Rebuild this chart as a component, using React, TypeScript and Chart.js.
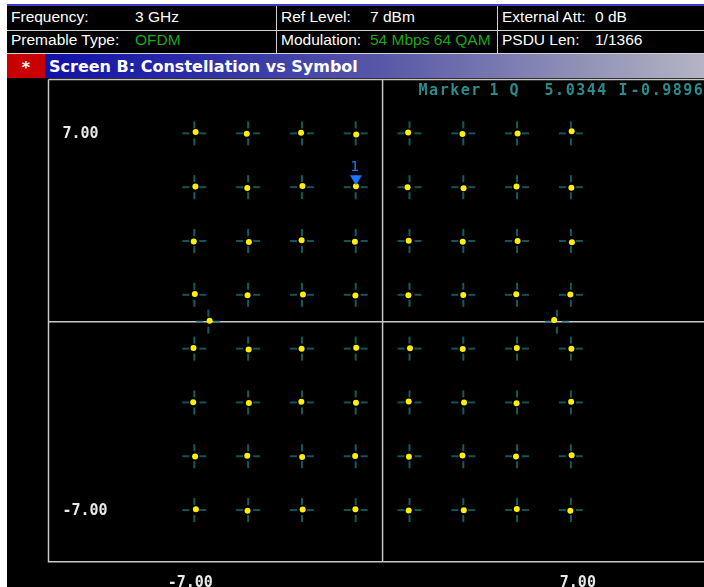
import React, { useEffect, useRef } from 'react';
import { Chart, registerables } from 'chart.js';

Chart.register(...registerables);

// Ideal 64-QAM levels (I and Q) and BPSK pilot positions
const levels = [-7, -5, -3, -1, 1, 3, 5, 7];
const pilotI = [-6.48, 6.48];
const pilotQ = [0, 0];

// Measured symbols, row by row (Q = 7 ... -7), columns I = -7 ... 7, then the two pilots
const measuredI = [
  -6.95, -5.05, -3.03, -0.98, 0.95, 2.97, 5.02, 7.03,
  -6.96, -5.03, -2.98, -0.9896, 0.93, 3.01, 4.98, 7.02,
  -7.02, -4.97, -3.01, -1.03, 0.97, 2.98, 5.02, 7.04,
  -6.98, -5.02, -2.96, -1.01, 0.96, 3.0, 4.97, 6.98,
  -7.03, -4.98, -3.01, -0.98, 1.02, 2.98, 4.99, 7.02,
  -7.04, -4.97, -3.02, -0.99, 0.97, 3.03, 4.98, 7.01,
  -6.97, -5.03, -2.99, -1.02, 0.98, 2.97, 4.96, 7.03,
  -6.94, -5.02, -2.97, -1.01, 0.97, 3.02, 4.99, 6.98,
  -6.43, 6.38,
];
const measuredQ = [
  7.05, 6.98, 7.02, 6.96, 7.03, 6.97, 6.99, 7.08,
  5.02, 4.97, 5.04, 5.0344, 5.0, 4.96, 5.02, 4.98,
  2.98, 2.96, 3.03, 2.97, 3.01, 2.97, 3.0, 2.95,
  1.03, 0.98, 1.01, 0.97, 0.98, 0.99, 1.02, 1.01,
  -0.98, -1.03, -1.01, -0.97, -0.99, -1.02, -0.98, -1.01,
  -2.99, -3.02, -2.98, -3.01, -2.97, -3.0, -3.03, -2.98,
  -5.01, -4.98, -5.03, -4.99, -5.02, -4.97, -5.01, -4.96,
  -6.97, -7.03, -6.98, -6.97, -7.02, -7.01, -6.96, -7.03,
  0.03, 0.06,
];

// Marker 1
const markerI = -0.9896;
const markerQ = 5.0344;

// Axis ranges and labels
const xMin = -12.42;
const xMax = 11.95;
const yMin = -8.92;
const yMax = 9.0;
const qTickValues = [7, -7];
const iTickValues = [-7, 7];
const tickText = (v: number) => v.toFixed(2);

const headerRow1 = [
  { label: 'Frequency:', value: '3 GHz', green: false },
  { label: 'Ref Level:', value: '7 dBm', green: false },
  { label: 'External Att:', value: '0 dB', green: false },
];
const headerRow2 = [
  { label: 'Premable Type:', value: 'OFDM', green: true },
  { label: 'Modulation:', value: '54 Mbps 64 QAM', green: true },
  { label: 'PSDU Len:', value: '1/1366', green: false },
];
const titleText = 'Screen B: Constellation vs Symbol';

function makeCross(): HTMLCanvasElement {
  const c = document.createElement('canvas');
  c.width = 26;
  c.height = 26;
  const ctx = c.getContext('2d')!;
  ctx.strokeStyle = '#1a7272';
  ctx.lineWidth = 1.6;
  ctx.beginPath();
  ctx.moveTo(1, 13); ctx.lineTo(8, 13);
  ctx.moveTo(18, 13); ctx.lineTo(25, 13);
  ctx.moveTo(13, 1); ctx.lineTo(13, 8);
  ctx.moveTo(13, 18); ctx.lineTo(13, 25);
  ctx.stroke();
  return c;
}

const headerFont = '15.5px "Liberation Sans", Arial, sans-serif';

export default function App() {
  const ref = useRef<HTMLCanvasElement | null>(null);

  useEffect(() => {
    if (!ref.current) return;
    const ideal: { x: number; y: number }[] = [];
    for (let r = levels.length - 1; r >= 0; r--) {
      for (let c = 0; c < levels.length; c++) ideal.push({ x: levels[c], y: levels[r] });
    }
    pilotI.forEach((v, i) => ideal.push({ x: v, y: pilotQ[i] }));
    const measured = measuredI.map((v, i) => ({ x: v, y: measuredQ[i] }));

    const overlay = {
      id: 'overlay',
      beforeDraw(chart: any) {
        const { ctx, width, height } = chart;
        ctx.save();
        ctx.fillStyle = '#000';
        ctx.fillRect(0, 0, width, height);
        ctx.restore();
      },
      beforeDatasetsDraw(chart: any) {
        const { ctx, chartArea: a, scales } = chart;
        const x0 = scales.x.getPixelForValue(0);
        const y0 = scales.y.getPixelForValue(0);
        ctx.save();
        ctx.strokeStyle = '#c8c8c8';
        ctx.lineWidth = 1.5;
        ctx.beginPath();
        ctx.moveTo(a.left, a.top); ctx.lineTo(a.right, a.top);
        ctx.moveTo(a.left, a.top); ctx.lineTo(a.left, a.bottom);
        ctx.lineTo(a.right, a.bottom);
        ctx.moveTo(x0, a.top); ctx.lineTo(x0, a.bottom);
        ctx.moveTo(a.left, y0); ctx.lineTo(a.right, y0);
        ctx.stroke();
        ctx.restore();
      },
      afterDatasetsDraw(chart: any) {
        const { ctx, chartArea: a, scales } = chart;
        ctx.save();
        // Q labels
        ctx.fillStyle = '#e8e8e8';
        ctx.font = 'bold 15px "DejaVu Sans Mono", monospace';
        ctx.textBaseline = 'middle';
        ctx.textAlign = 'left';
        qTickValues.forEach((v) => {
          ctx.fillText(tickText(v), a.left + 14, scales.y.getPixelForValue(v) + 1);
        });
        // I labels
        ctx.textAlign = 'center';
        iTickValues.forEach((v) => {
          ctx.fillText(tickText(v), scales.x.getPixelForValue(v) + (v < 0 ? -4 : 7), a.bottom + 21);
        });
        // Marker
        const mx = scales.x.getPixelForValue(markerI);
        const my = scales.y.getPixelForValue(markerQ);
        ctx.fillStyle = '#1e74ff';
        ctx.beginPath();
        ctx.moveTo(mx - 6, my - 11);
        ctx.lineTo(mx + 6, my - 11);
        ctx.lineTo(mx, my - 1);
        ctx.closePath();
        ctx.fill();
        ctx.font = '14px "DejaVu Sans", sans-serif';
        ctx.fillText('1', mx - 1, my - 19);
        // Marker readout
        ctx.fillStyle = '#2a8c8c';
        ctx.font = 'bold 15px "DejaVu Sans Mono", monospace';
        (ctx as any).letterSpacing = '1.5px';
        ctx.textAlign = 'left';
        const ty = a.top + 12;
        const x0 = scales.x.getPixelForValue(0);
        ctx.fillText('Marker', x0 + 36, ty);
        ctx.fillText('1', x0 + 107, ty);
        ctx.fillText('Q', x0 + 127, ty);
        ctx.fillText(markerQ.toFixed(4), x0 + 162, ty);
        ctx.fillText('I', x0 + 236, ty);
        ctx.fillText(markerI.toFixed(4), x0 + 248, ty);
        ctx.restore();
      },
    };

    const chart = new Chart(ref.current, {
      type: 'scatter',
      data: {
        datasets: [
          {
            label: 'Measured',
            data: measured,
            pointStyle: 'circle',
            pointRadius: 3,
            backgroundColor: '#fff000',
            borderWidth: 0,
            order: 0,
          },
          {
            label: 'Ideal',
            data: ideal,
            pointStyle: makeCross() as any,
            pointRadius: 13,
            order: 1,
          },
        ],
      },
      options: {
        animation: false,
        responsive: false,
        maintainAspectRatio: false,
        events: [],
        layout: { autoPadding: false, padding: { left: 41.5, top: 1.5, right: 0, bottom: 25.3 } },
        scales: {
          x: { type: 'linear', min: xMin, max: xMax, display: false },
          y: { type: 'linear', min: yMin, max: yMax, display: false },
        },
        plugins: { legend: { display: false }, tooltip: { enabled: false } },
      },
      plugins: [overlay],
    });
    return () => chart.destroy();
  }, []);

  const colX = [11, 281, 502];
  const valX = [135, 370, 595];
  const renderRow = (row: typeof headerRow1, top: number) =>
    row.map((cell, i) => (
      <React.Fragment key={i}>
        <div style={{ position: 'absolute', left: colX[i], top, height: 23, lineHeight: '23px', color: '#ffffff', font: headerFont, whiteSpace: 'nowrap' }}>{cell.label}</div>
        <div style={{ position: 'absolute', left: valX[i], top, height: 23, lineHeight: '23px', color: cell.green ? '#1aa81a' : '#ffffff', font: headerFont, whiteSpace: 'nowrap' }}>{cell.value}</div>
      </React.Fragment>
    ));

  return (
    <div style={{ position: 'absolute', left: 0, top: 0, width: 704, height: 587, overflow: 'hidden', background: '#ffffff' }}>
      <div style={{ position: 'absolute', left: 7, top: 4, width: 697, height: 2, background: '#3a3ad0' }} />
      <div style={{ position: 'absolute', left: 7, top: 6, width: 697, height: 48, background: '#000' }} />
      <div style={{ position: 'absolute', left: 7, top: 30, width: 697, height: 1, background: '#d0d0d0' }} />
      <div style={{ position: 'absolute', left: 7, top: 53, width: 697, height: 1, background: '#d0d0d0' }} />
      <div style={{ position: 'absolute', left: 276, top: 6, width: 1, height: 48, background: '#d0d0d0' }} />
      <div style={{ position: 'absolute', left: 497, top: 6, width: 1, height: 48, background: '#d0d0d0' }} />
      {renderRow(headerRow1, 8)}
      {renderRow(headerRow2, 31)}
      <div style={{ position: 'absolute', left: 7, top: 54, width: 697, height: 24, background: 'linear-gradient(to right, #0a0aa8 0%, #2a2aa8 25%, #5a5aa8 55%, #9696b8 85%, #b4b4c4 100%)' }} />
      <div style={{ position: 'absolute', left: 7, top: 54, width: 38, height: 24, background: '#c80000' }} />
      <div style={{ position: 'absolute', left: 7, top: 57, width: 38, height: 22, color: '#fff', font: 'bold 16px "DejaVu Sans", sans-serif', lineHeight: '22px', textAlign: 'center' }}>*</div>
      <div style={{ position: 'absolute', left: 49, top: 57, height: 22, lineHeight: '22px', color: '#fff', font: 'bold 16px "DejaVu Sans", sans-serif', whiteSpace: 'nowrap' }}>{titleText}</div>
      <div style={{ position: 'absolute', left: 7, top: 78, width: 697, height: 509 }}>
        <canvas ref={ref} width={697} height={509} style={{ display: 'block', width: 697, height: 509 }} />
      </div>
    </div>
  );
}
